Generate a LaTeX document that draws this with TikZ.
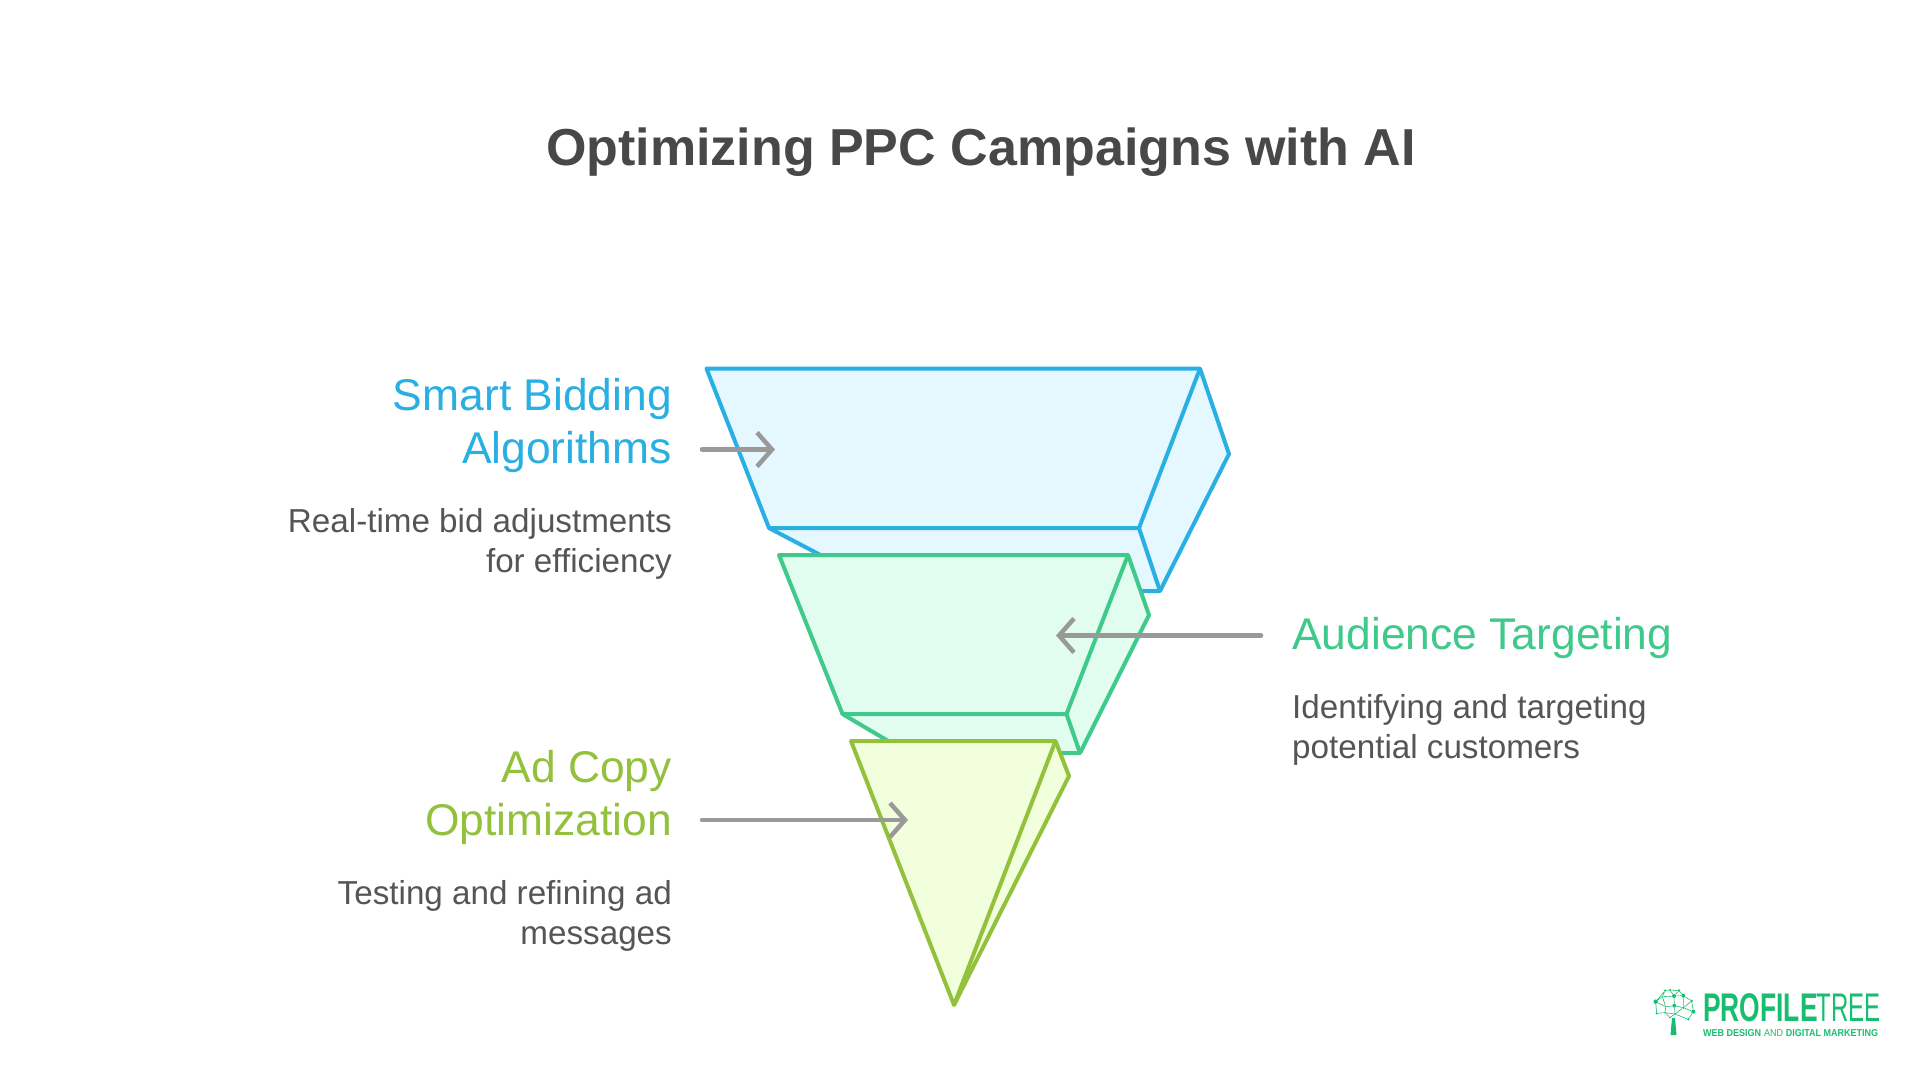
\documentclass[tikz,border=0pt]{standalone}
\usepackage{fontspec}
\setmainfont{Liberation Sans}
\newfontfamily\logobold[FakeStretch=0.66]{Liberation Sans Bold}
\newfontfamily\logolight[FakeStretch=0.6]{Liberation Sans}
\newfontfamily\logosmall[FakeStretch=0.9]{Liberation Sans Bold}
\newfontfamily\logosmalllight[FakeStretch=0.9]{Liberation Sans}
\usetikzlibrary{arrows.meta}
\definecolor{pcblue}{RGB}{41,175,226}
\definecolor{pcbluefill}{RGB}{229,247,255}
\definecolor{pcgreen}{RGB}{63,201,138}
\definecolor{pcgreenfill}{RGB}{225,253,240}
\definecolor{pclime}{RGB}{147,193,60}
\definecolor{pclimefill}{RGB}{241,255,220}
\definecolor{pcgray}{RGB}{153,153,153}
\definecolor{pctext}{RGB}{85,85,85}
\definecolor{pctitle}{RGB}{72,72,72}
\definecolor{pclogo}{RGB}{24,190,112}
\tikzstyle{arrow} = [line width=4.5pt,line cap=round,pcgray,-{Straight Barb[length=15pt,width=34pt]}]
\tikzstyle{facet} = [line width=4pt,line join=round]
\tikzstyle{heading} = [font=\fontsize{44.4}{53}\selectfont,inner sep=0pt]
\tikzstyle{detail} = [font=\fontsize{33.2}{40}\selectfont,inner sep=0pt,text=pctext]
\tikzstyle{logodot} = [circle,fill=pclogo,inner sep=0pt]
\begin{document}
\begin{tikzpicture}[x=1pt,y=-1pt]
    \useasboundingbox[fill=white] (0,0) rectangle (1920,1080);

    \node[font=\bfseries\fontsize{52}{60}\selectfont,text=pctitle,inner sep=0pt] (title) at (981,152) {Optimizing PPC Campaigns with AI};

    % Blue layer
    \draw[facet,draw=pcblue,fill=pcbluefill] (706.5,368.6) -- (1200,368.6) -- (1229,454) -- (1160,591) -- (1135,591) -- (830,560) -- (769,528) -- cycle;
    \draw[facet,draw=pcblue] (769,528) -- (1139,528) -- (1200,368.6);
    \draw[facet,draw=pcblue] (1139,528) -- (1160,591);

    % Green layer
    \draw[facet,draw=pcgreen,fill=pcgreenfill] (779,555) -- (1128,555) -- (1149,615) -- (1080,753) -- (1060,753) -- (895,745) -- (842.5,714) -- cycle;
    \draw[facet,draw=pcgreen] (842.5,714) -- (1066.5,714) -- (1128,555);
    \draw[facet,draw=pcgreen] (1066.5,714) -- (1080,753);

    % Lime layer
    \draw[facet,draw=pclime,fill=pclimefill] (851,741) -- (1055.5,741) -- (1069,776) -- (954,1005) -- cycle;
    \draw[facet,draw=pclime] (1055.5,741) -- (954,1005);

    % Labels
    \node[heading,text=pcblue,align=right,anchor=east] (bidding) at (672,426) {Smart Bidding\\Algorithms};
    \node[detail,align=right,anchor=east] (biddingtext) at (672,544) {Real-time bid adjustments\\for efficiency};
    \node[heading,text=pcgreen,anchor=west] (audience) at (1292,638) {Audience Targeting};
    \node[detail,align=left,anchor=west] (audiencetext) at (1292,730) {Identifying and targeting\\potential customers};
    \node[heading,text=pclime,align=right,anchor=east] (adcopy) at (672,798) {Ad Copy\\Optimization};
    \node[detail,align=right,anchor=east] (adcopytext) at (672,916) {Testing and refining ad\\messages};

    % Pointers
    \coordinate (bidfrom) at (702,449.5);
    \coordinate (bidto) at (775,449.5);
    \coordinate (audfrom) at (1261,635.5);
    \coordinate (audto) at (1056,635.5);
    \coordinate (adfrom) at (702,820);
    \coordinate (adto) at (908,820);
    \draw[arrow] (bidfrom) -- (bidto);
    \draw[arrow] (audfrom) -- (audto);
    \draw[arrow] (adfrom) -- (adto);

    % Logo
    \fill[pclogo] (1670.5,1035) -- (1676.5,1035) -- (1675,1018) -- (1672,1018) -- cycle;
    \begin{scope}[shift={(1620,960)},scale=1/3]
        \foreach \dotname/\dotx/\doty/\dotsize in {a/107/125/4.5,b/135/92/2.5,c/150/90/2.5,d/177/92/3,e/127/110/2,f/162/108/4,g/190/107/4,h/215/123/3,i/137/140/2,j/163/137/4,k/190/143/2.5,l/220/155/4,m/110/160/2.5,n/135/158/2,o/165/162/2.5,p/205/178/2.5,q/150/172/2}
            \node[logodot,minimum size=\dotsize pt] (\dotname) at (\dotx,\doty) {};
        \foreach \from/\to in {a/b,a/e,a/i,a/m,b/c,c/d,c/f,d/f,d/g,e/f,e/i,f/g,f/j,g/h,g/k,h/k,h/l,i/j,i/n,j/k,j/o,k/l,k/o,l/p,m/n,n/o,n/q,o/p,o/q,b/e}
            \draw[pclogo,line width=0.6pt] (\from) -- (\to);
    \end{scope}
    \node[font=\logobold\fontsize{40}{40}\selectfont,text=pclogo,inner sep=0pt,anchor=base west] (profile) at (1703,1021) {PROFILE};
    \node[font=\logolight\fontsize{40}{40}\selectfont,text=pclogo,inner sep=0pt,anchor=base east] (tree) at (1881,1021) {TREE};
    \node[font=\fontsize{10}{10}\selectfont,text=pclogo,inner sep=0pt,anchor=base west] (tagline) at (1703,1036) {{\logosmall WEB DESIGN} {\logosmalllight AND} {\logosmall DIGITAL MARKETING}};
\end{tikzpicture}
\end{document}
